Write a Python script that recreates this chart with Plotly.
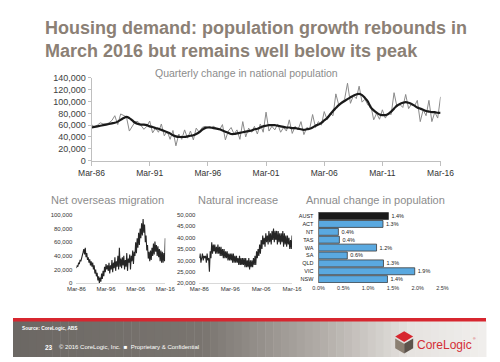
import plotly.graph_objects as go
import pandas as pd

W, H = 500, 362
def px(x): return x / W
def py(y): return 1 - y / H

# ---------------- DATA ----------------
quarters = pd.date_range("1986-03-01", "2016-03-01", freq="QS-MAR")  # 121 quarters

quarterly_change = [
    61000, 57000, 60000, 64000,   # 1986
    62000, 62000, 64000, 68000,   # 1987
    76000, 61000, 79000, 77000,   # 1988
    74000, 50000, 58000, 66000,   # 1989
    66000, 60000, 53000, 58000,   # 1990
    67000, 47000, 55000, 48000,   # 1991
    62000, 42000, 50000, 36000,   # 1992
    51000, 25000, 45000, 36000,   # 1993
    52000, 38000, 50000, 35000,   # 1994
    55000, 48000, 56000, 58000,   # 1995
    57000, 55000, 58000, 54000,   # 1996
    52000, 61000, 35000, 50000,   # 1997
    56000, 45000, 52000, 36000,   # 1998
    66000, 40000, 55000, 48000,   # 1999
    58000, 45000, 62000, 48000,   # 2000
    82000, 50000, 58000, 52000,   # 2001
    62000, 48000, 56000, 50000,   # 2002
    69000, 46000, 58000, 52000,   # 2003
    66000, 44000, 56000, 54000,   # 2004
    78000, 56000, 66000, 60000,   # 2005
    83000, 69000, 80000, 76000,   # 2006
    113000, 94000, 99000, 104000, # 2007
    131000, 97000, 110000, 105000,# 2008
    126000, 99000, 104000, 94000, # 2009
    94000, 69000, 80000, 70000,   # 2010
    86000, 72000, 80000, 78000,   # 2011
    115000, 91000, 95000, 90000,  # 2012
    112000, 88000, 96000, 92000,  # 2013
    102000, 66000, 86000, 76000,  # 2014
    102000, 66000, 82000, 72000,  # 2015
    108000,                       # 2016
]

quarterly_trend = [
    56000, 57000, 58000, 59000,   # 1986
    60000, 61000, 62000, 63000,   # 1987
    64000, 66000, 69000, 72000,   # 1988
    74000, 72000, 68000, 64000,   # 1989
    62000, 61000, 61000, 60000,   # 1990
    58000, 57000, 55000, 54000,   # 1991
    52000, 50000, 48000, 46000,   # 1992
    43000, 41000, 40000, 40000,   # 1993
    40000, 41000, 42000, 43000,   # 1994
    45000, 48000, 52000, 55000,   # 1995
    56000, 56000, 55000, 54000,   # 1996
    53000, 51000, 49000, 47000,   # 1997
    45000, 45000, 46000, 47000,   # 1998
    48000, 49000, 50000, 51000,   # 1999
    53000, 54000, 56000, 58000,   # 2000
    59000, 60000, 60000, 60000,   # 2001
    59000, 58000, 57000, 56000,   # 2002
    56000, 55000, 55000, 54000,   # 2003
    53000, 52000, 53000, 54000,   # 2004
    56000, 59000, 61000, 64000,   # 2005
    68000, 72000, 78000, 84000,   # 2006
    89000, 94000, 98000, 101000,  # 2007
    104000, 107000, 110000, 112000, # 2008
    113000, 111000, 106000, 100000, # 2009
    90000, 85000, 81000, 78000,   # 2010
    77000, 77000, 79000, 83000,   # 2011
    88000, 93000, 96000, 98000,   # 2012
    99000, 98000, 96000, 93000,   # 2013
    90000, 88000, 86000, 84000,   # 2014
    83000, 82000, 82000, 81000,   # 2015
    81000,                        # 2016
]

net_overseas_migration = [
    22000, 26000, 24000, 30000,   # 1986
    28000, 34000, 32000, 38000,   # 1987
    40000, 45000, 50000, 42000,   # 1988
    52000, 38000, 44000, 34000,   # 1989
    38000, 30000, 35000, 26000,   # 1990
    32000, 24000, 30000, 20000,   # 1991
    26000, 14000, 20000, 10000,   # 1992
    15000, 4000, 10000, 0,        # 1993
    8000, 2000, 14000, 6000,      # 1994
    18000, 10000, 24000, 16000,   # 1995
    28000, 20000, 26000, 18000,   # 1996
    30000, 14000, 26000, 20000,   # 1997
    34000, 16000, 30000, 22000,   # 1998
    38000, 18000, 32000, 24000,   # 1999
    40000, 20000, 52000, 24000,   # 2000
    36000, 22000, 38000, 26000,   # 2001
    40000, 20000, 34000, 24000,   # 2002
    44000, 18000, 36000, 30000,   # 2003
    42000, 20000, 40000, 32000,   # 2004
    48000, 28000, 46000, 40000,   # 2005
    60000, 44000, 66000, 52000,   # 2006
    74000, 56000, 80000, 66000,   # 2007
    88000, 70000, 94000, 74000,   # 2008
    86000, 60000, 70000, 48000,   # 2009
    56000, 36000, 46000, 32000,   # 2010
    48000, 34000, 52000, 40000,   # 2011
    58000, 42000, 61000, 46000,   # 2012
    56000, 40000, 54000, 38000,   # 2013
    50000, 32000, 48000, 30000,   # 2014
    46000, 30000, 44000, 32000,   # 2015
    66000,                        # 2016
]

natural_increase = [
    31000, 33000, 29000, 32000,   # 1986
    33000, 30000, 32000, 31000,   # 1987
    32000, 29000, 33000, 30000,   # 1988
    31000, 25000, 34000, 31000,   # 1989
    38000, 33000, 37000, 34000,   # 1990
    37000, 33000, 36000, 33000,   # 1991
    37000, 33000, 36000, 32000,   # 1992
    36000, 32000, 35000, 31000,   # 1993
    35000, 31000, 34000, 31000,   # 1994
    34000, 30000, 33000, 30000,   # 1995
    33000, 30000, 33000, 29000,   # 1996
    33000, 29000, 32000, 29000,   # 1997
    32000, 29000, 31000, 28000,   # 1998
    32000, 28000, 31000, 28000,   # 1999
    31000, 28000, 31000, 27000,   # 2000
    31000, 27000, 30000, 27000,   # 2001
    31000, 26000, 30000, 27000,   # 2002
    30000, 27000, 31000, 28000,   # 2003
    32000, 28000, 34000, 31000,   # 2004
    35000, 32000, 37000, 33000,   # 2005
    39000, 35000, 41000, 37000,   # 2006
    40000, 36000, 42000, 38000,   # 2007
    41000, 37000, 43000, 38000,   # 2008
    42000, 37000, 43000, 39000,   # 2009
    44000, 38000, 43000, 39000,   # 2010
    43000, 37000, 43000, 38000,   # 2011
    42000, 37000, 42000, 38000,   # 2012
    43000, 36000, 42000, 37000,   # 2013
    41000, 36000, 41000, 37000,   # 2014
    40000, 35000, 39000, 35000,   # 2015
    41000,                        # 2016
]

states = ["AUST", "ACT", "NT", "TAS", "WA", "SA", "QLD", "VIC", "NSW"]
annual_change = [0.0141, 0.0130, 0.0040, 0.0042, 0.0117, 0.0058, 0.0131, 0.0194, 0.0139]

main_tick_dates = ["1986-03-01", "1991-03-01", "1996-03-01", "2001-03-01", "2006-03-01", "2011-03-01", "2016-03-01"]
main_tick_text = ["Mar-86", "Mar-91", "Mar-96", "Mar-01", "Mar-06", "Mar-11", "Mar-16"]
small_tick_dates = ["1986-03-01", "1996-03-01", "2006-03-01", "2016-03-01"]
small_tick_text = ["Mar-86", "Mar-96", "Mar-06", "Mar-16"]

# ---------------- FIGURE ----------------
FONT = "Liberation Sans, Arial, sans-serif"
fig = go.Figure()

fig.add_trace(go.Scatter(x=quarters, y=quarterly_change, mode="lines",
                         line=dict(color="#8a8a8a", width=1), xaxis="x", yaxis="y"))
fig.add_trace(go.Scatter(x=quarters, y=quarterly_trend, mode="lines", line_shape="spline",
                         line=dict(color="#1a1a1a", width=2.2), xaxis="x", yaxis="y"))
fig.add_trace(go.Scatter(x=quarters, y=net_overseas_migration, mode="lines",
                         line=dict(color="#262626", width=1.1), xaxis="x2", yaxis="y2"))
fig.add_trace(go.Scatter(x=quarters, y=natural_increase, mode="lines",
                         line=dict(color="#262626", width=1.1), xaxis="x3", yaxis="y3"))
bar_colors = ["#1a1a1a"] + ["#5aa9e0"] * (len(states) - 1)
fig.add_trace(go.Bar(x=annual_change, y=states, orientation="h",
                     marker=dict(color=bar_colors, line=dict(color="#3a3a3a", width=0.8)),
                     texttemplate="%{x:.1%}", textposition="outside",
                     textfont=dict(size=5.5, color="#222"), cliponaxis=False,
                     xaxis="x4", yaxis="y4"))

common_x = dict(type="date", range=["1986-03-01", "2016-03-01"], showgrid=False, zeroline=False)
fig.update_layout(
    width=W, height=H, autosize=False,
    margin=dict(l=0, r=0, t=0, b=0),
    paper_bgcolor="white", plot_bgcolor="rgba(0,0,0,0)",
    showlegend=False, bargap=0.12,
    font=dict(family=FONT),
    xaxis=dict(**common_x, domain=[px(83), px(452)], anchor="y",
               tickvals=main_tick_dates, ticktext=main_tick_text,
               showline=True, linecolor="#bfbfbf", ticks="outside", ticklen=4, tickcolor="#bfbfbf",
               tickfont=dict(size=8.5, color="#333333")),
    yaxis=dict(domain=[py(160), py(75)], anchor="x", range=[0, 140000], dtick=20000,
               tickformat=",d", showgrid=False, zeroline=False,
               showline=True, linecolor="#bfbfbf", ticks="outside", ticklen=3, tickcolor="#bfbfbf",
               tickfont=dict(size=9, color="#404040")),
    xaxis2=dict(**common_x, domain=[px(67), px(161)], anchor="y2",
                tickvals=small_tick_dates, ticktext=small_tick_text,
                showline=True, linecolor="#d9d9d9", ticks="",
                tickfont=dict(size=6, color="#333333")),
    yaxis2=dict(domain=[py(286), py(216)], anchor="x2", range=[0, 100000], dtick=20000,
                tickformat=",d", showgrid=False, zeroline=False, showline=False,
                ticklabelstandoff=3, tickfont=dict(size=6, color="#333333")),
    xaxis3=dict(**common_x, domain=[px(197), px(295)], anchor="y3",
                tickvals=small_tick_dates, ticktext=small_tick_text,
                showline=True, linecolor="#d9d9d9", ticks="",
                tickfont=dict(size=6, color="#333333")),
    yaxis3=dict(domain=[py(286), py(216)], anchor="x3", range=[20000, 50000], dtick=5000,
                tickformat=",d", showgrid=False, zeroline=False, showline=False,
                ticklabelstandoff=3, tickfont=dict(size=6, color="#333333")),
    xaxis4=dict(domain=[px(323), px(454)], anchor="y4", range=[0, 0.025], dtick=0.005,
                tickformat=".1%", showgrid=False, zeroline=False, showline=False,
                tickfont=dict(size=5.5, color="#333333")),
    yaxis4=dict(domain=[py(286), py(213)], anchor="x4", autorange="reversed",
                showgrid=False, zeroline=False, showline=True, linecolor="#7f7f7f",
                ticklabelstandoff=3, tickfont=dict(size=5.5, color="#222222")),
)

ann = []
TITLE_C = "#8b8075"
ann.append(dict(text="<b>Housing demand: population growth rebounds in</b>", x=px(32), y=py(24),
                xanchor="left", yanchor="middle", font=dict(size=18, color=TITLE_C)))
ann.append(dict(text="<b>March 2016 but remains well below its peak</b>", x=px(32), y=py(47),
                xanchor="left", yanchor="middle", font=dict(size=18, color=TITLE_C)))
SUB_C = "#8c8c8c"
ann.append(dict(text="Quarterly change in national population", x=px(247), y=py(70),
                xanchor="center", yanchor="middle", font=dict(size=10.5, color=SUB_C)))
ann.append(dict(text="Net overseas migration", x=px(100), y=py(201),
                xanchor="center", yanchor="middle", font=dict(size=11, color=SUB_C)))
ann.append(dict(text="Natural increase", x=px(238), y=py(201),
                xanchor="center", yanchor="middle", font=dict(size=11, color=SUB_C)))
ann.append(dict(text="Annual change in population", x=px(383), y=py(201),
                xanchor="center", yanchor="middle", font=dict(size=11, color=SUB_C)))
# footer texts
ann.append(dict(text="<b>Source: CoreLogic, ABS</b>", x=px(7), y=py(333),
                xanchor="left", yanchor="middle", font=dict(size=4.8, color="white")))
ann.append(dict(text="<b>23</b>", x=px(32), y=py(352),
                xanchor="left", yanchor="middle", font=dict(size=6.5, color="white")))
ann.append(dict(text="© 2016 CoreLogic, Inc.  ■  Proprietary & Confidential", x=px(46), y=py(352),
                xanchor="left", yanchor="middle", font=dict(size=6, color="white")))
ann.append(dict(text="CoreLogic", x=px(425), y=py(350), xanchor="left", yanchor="middle",
                font=dict(size=12, color="#d42e35", family="Liberation Sans, Arial")))
ann.append(dict(text="®", x=px(484), y=py(344), xanchor="left", yanchor="middle",
                font=dict(size=3.5, color="#d42e35")))
for a in ann:
    a.update(xref="paper", yref="paper", showarrow=False)
fig.update_layout(annotations=ann)

# footer band (gradient approximated with strips)
shapes = []
stops = [(0, (108, 104, 100)), (200, (122, 117, 112)), (330, (180, 175, 170)),
         (420, (230, 227, 224)), (500, (241, 239, 237))]
n = 60
for i in range(n):
    x0 = W * i / n
    x1 = W * (i + 1) / n
    xm = (x0 + x1) / 2
    for (a, ca), (b, cb) in zip(stops[:-1], stops[1:]):
        if a <= xm <= b:
            t = (xm - a) / (b - a)
            c = tuple(int(ca[k] + (cb[k] - ca[k]) * t) for k in range(3))
            break
    shapes.append(dict(type="rect", xref="paper", yref="paper", x0=px(x0), x1=px(x1) + 0.001,
                       y0=py(362), y1=py(325), fillcolor="rgb(%d,%d,%d)" % c, line=dict(width=0),
                       layer="below"))
shapes.append(dict(type="rect", xref="paper", yref="paper", x0=0, x1=1, y0=py(325.5), y1=py(322),
                   fillcolor="#d7262f", line=dict(width=0)))

def path(points):
    return "M " + " L ".join("%f,%f" % (px(x), py(y)) for x, y in points) + " Z"

shapes.append(dict(type="path", xref="paper", yref="paper",
                   path=path([(404, 341), (413.5, 335.5), (423, 341), (413.5, 346.5)]),
                   fillcolor="#d7262f", line=dict(width=0)))
shapes.append(dict(type="path", xref="paper", yref="paper",
                   path=path([(404, 343), (413.5, 348.5), (413.5, 358.5), (404, 353)]),
                   fillcolor="#8b7f72", line=dict(width=0)))
shapes.append(dict(type="path", xref="paper", yref="paper",
                   path=path([(423, 343), (413.5, 348.5), (413.5, 358.5), (423, 353)]),
                   fillcolor="#5c534b", line=dict(width=0)))
fig.update_layout(shapes=shapes)

fig.write_html("out.html", config={"displayModeBar": False},
               post_script="document.body.style.margin='0px';")
